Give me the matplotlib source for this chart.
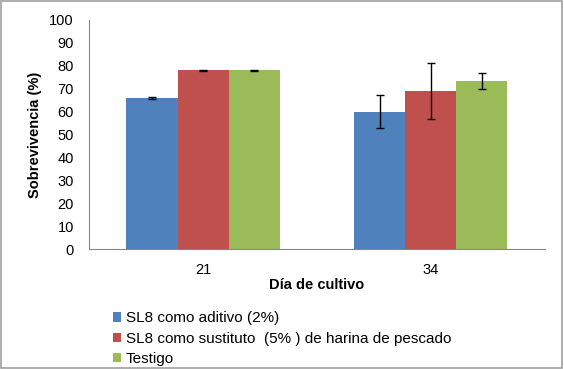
import numpy as np
import matplotlib.pyplot as plt
from matplotlib.patches import Rectangle

plt.rcParams['font.family'] = ['Liberation Sans', 'DejaVu Sans']

DAYS = ['21', '34']
SERIES = ['SL8 como aditivo (2%)',
          'SL8 como sustituto  (5% ) de harina de pescado',
          'Testigo']
VALUES = [
    [66, 60],
    [78, 69],
    [78, 73.5],
]
ERRORS = [
    [0.3, 7.2],
    [0.3, 12.2],
    [0.3, 3.5],
]
COLORS = ['#4F81BD', '#C0504D', '#9BBB59']

fig = plt.figure(figsize=(5.64, 3.69), dpi=100)
ax = fig.add_axes([0.158, 0.324, 0.808, 0.622])

x = np.arange(len(DAYS))
width = 0.224
for i, (name, vals, errs, col) in enumerate(zip(SERIES, VALUES, ERRORS, COLORS)):
    ax.bar(x + (i - 1) * width, vals, width, color=col, label=name,
           edgecolor='none', yerr=errs, capsize=3,
           error_kw={'elinewidth': 1.0, 'capthick': 1.0, 'ecolor': 'black'})

ax.set_xlim(-0.5, 1.5)
ax.set_ylim(0, 100)
ax.set_yticks(range(0, 101, 10))
ax.set_xticks(x)
ax.set_xticklabels(DAYS)
ax.tick_params(axis='both', length=0, labelsize=10.5, colors='black')
ax.tick_params(axis='y', pad=11)
ax.tick_params(axis='x', pad=10)
for side in ['top', 'right']:
    ax.spines[side].set_visible(False)
for side in ['left', 'bottom']:
    ax.spines[side].set_color('#868686')

ax.set_ylabel('Sobrevivencia (%)', fontsize=10.5, fontweight='bold', labelpad=5)
ax.set_xlabel('Día de cultivo', fontsize=10.5, fontweight='bold', labelpad=0.5)

ax.legend(loc='upper left', bbox_to_anchor=(0.039, -0.243), frameon=False,
          fontsize=11, handlelength=0.55, handleheight=0.55, handletextpad=0.3,
          labelspacing=0.42, borderaxespad=0)

fig.patches.append(Rectangle((0.002, 0.003), 0.995, 0.994, transform=fig.transFigure,
                             fill=False, edgecolor='#A0A0A0', linewidth=1.2))

fig.savefig('out.png', dpi=100)
